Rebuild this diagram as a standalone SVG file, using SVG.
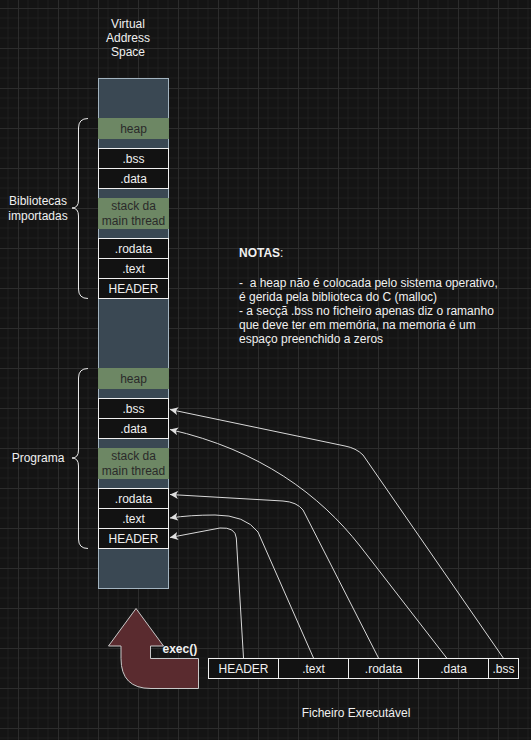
<svg xmlns="http://www.w3.org/2000/svg" width="531" height="740" viewBox="0 0 531 740">
<defs>
<pattern id="grid" patternUnits="userSpaceOnUse" width="40" height="40" x="18" y="8">
<path d="M10,0 V40 M20,0 V40 M30,0 V40 M0,10 H40 M0,20 H40 M0,30 H40" stroke="#1e1e1e" stroke-width="1" fill="none"/>
<path d="M0.5,0 V40 M0,0.5 H40" stroke="#2c2c2c" stroke-width="1" fill="none"/>
</pattern>
<marker id="arr" markerUnits="userSpaceOnUse" markerWidth="10" markerHeight="10" refX="8" refY="4" orient="auto">
<path d="M8,4 L0,0 L2,4 L0,8 Z" fill="#e0e0e0"/>
</marker>
</defs>
<style>
text{font-family:"Liberation Sans",Arial,sans-serif;font-size:12px;fill:#f0f0f0}
.c{text-anchor:middle}
.dk{fill:#2a2a2a}
.blk{fill:#121212;stroke:#f0f0f0;stroke-width:1}
.grn{fill:#6d8764;stroke:#6d8764;stroke-width:1}
.br{fill:none;stroke:#e8e8e8;stroke-width:1}
.ln{fill:none;stroke:#d8d8d8;stroke-width:1;marker-end:url(#arr)}
</style>
<rect width="531" height="740" fill="#141414"/>
<rect width="531" height="740" fill="url(#grid)"/>

<g id="title">
<text class="c" x="128" y="28">Virtual</text>
<text class="c" x="128" y="42">Address</text>
<text class="c" x="128" y="56">Space</text>
</g>

<g id="column">
<rect x="98.5" y="78.5" width="70" height="510" fill="#3a4853" stroke="#a3b4c0"/>
</g>

<g id="lib-heap"><rect class="grn" x="98.5" y="118.5" width="70" height="20"/><text class="c dk" x="133.5" y="132.5">heap</text></g>
<g id="lib-bss"><rect class="blk" x="98.5" y="148.5" width="70" height="20"/><text class="c" x="133.5" y="162.5">.bss</text></g>
<g id="lib-data"><rect class="blk" x="98.5" y="168.5" width="70" height="20"/><text class="c" x="133.5" y="182.5">.data</text></g>
<g id="lib-stack"><rect class="grn" x="98.5" y="198.5" width="70" height="30"/><text class="c dk" x="133.5" y="210">stack da</text><text class="c dk" x="133.5" y="224.5">main thread</text></g>
<g id="lib-rodata"><rect class="blk" x="98.5" y="238.5" width="70" height="20"/><text class="c" x="133.5" y="252.5">.rodata</text></g>
<g id="lib-text"><rect class="blk" x="98.5" y="258.5" width="70" height="20"/><text class="c" x="133.5" y="272.5">.text</text></g>
<g id="lib-header"><rect class="blk" x="98.5" y="278.5" width="70" height="20"/><text class="c" x="133.5" y="292.5">HEADER</text></g>

<g id="prog-heap"><rect class="grn" x="98.5" y="368.5" width="70" height="20"/><text class="c dk" x="133.5" y="382.5">heap</text></g>
<g id="prog-bss"><rect class="blk" x="98.5" y="398.5" width="70" height="20"/><text class="c" x="133.5" y="412.5">.bss</text></g>
<g id="prog-data"><rect class="blk" x="98.5" y="418.5" width="70" height="20"/><text class="c" x="133.5" y="432.5">.data</text></g>
<g id="prog-stack"><rect class="grn" x="98.5" y="448.5" width="70" height="30"/><text class="c dk" x="133.5" y="460">stack da</text><text class="c dk" x="133.5" y="474.5">main thread</text></g>
<g id="prog-rodata"><rect class="blk" x="98.5" y="488.5" width="70" height="20"/><text class="c" x="133.5" y="502.5">.rodata</text></g>
<g id="prog-text"><rect class="blk" x="98.5" y="508.5" width="70" height="20"/><text class="c" x="133.5" y="522.5">.text</text></g>
<g id="prog-header"><rect class="blk" x="98.5" y="528.5" width="70" height="20"/><text class="c" x="133.5" y="542.5">HEADER</text></g>

<g id="brace-lib">
<path class="br" d="M88,118.5 Q78.5,118.5 78.5,128 L78.5,200 Q78.5,208 72,208 Q78.5,208 78.5,216 L78.5,289 Q78.5,298.5 88,298.5"/>
<text class="c" x="38" y="205">Bibliotecas</text>
<text class="c" x="38" y="220">importadas</text>
</g>
<g id="brace-prog">
<path class="br" d="M88,368.5 Q78.5,368.5 78.5,378 L78.5,450 Q78.5,458 72,458 Q78.5,458 78.5,466 L78.5,539 Q78.5,548.5 88,548.5"/>
<text class="c" x="38" y="462">Programa</text>
</g>

<g id="notes">
<text x="239" y="257"><tspan font-weight="bold">NOTAS</tspan>:</text>
<text x="239" y="287">-&#160; a heap não é colocada pelo sistema operativo,</text>
<text x="239" y="301">é gerida pela biblioteca do C (malloc)</text>
<text x="239" y="315">- a secçã .bss no ficheiro apenas diz o ramanho</text>
<text x="239" y="329">que deve ter em memória, na memoria é um</text>
<text x="239" y="343">espaço preenchido a zeros</text>
</g>

<g id="exec-arrow">
<path d="M136,608.5 L163.5,646 L150.5,646 L150.5,658.5 L198.5,658.5 L198.5,688.5 L151,688.5 Q121,688.5 121,658.5 L121,646 L108.5,646 Z" fill="#5a2b2f" stroke="#c8c8c8" stroke-width="1"/>
<text x="162.5" y="652.5" font-weight="bold">exec()</text>
</g>

<g id="file">
<rect class="blk" x="208.5" y="658.5" width="70" height="20"/><text class="c" x="243.5" y="672.5">HEADER</text>
<rect class="blk" x="278.5" y="658.5" width="70" height="20"/><text class="c" x="313.5" y="672.5">.text</text>
<rect class="blk" x="348.5" y="658.5" width="70" height="20"/><text class="c" x="383.5" y="672.5">.rodata</text>
<rect class="blk" x="418.5" y="658.5" width="70" height="20"/><text class="c" x="453.5" y="672.5">.data</text>
<rect class="blk" x="488.5" y="658.5" width="30" height="20"/><text class="c" x="503.5" y="672.5">.bss</text>
<text class="c" x="356" y="716.5">Ficheiro Exrecutável</text>
</g>

<g id="connectors">
<path class="ln" d="M243.5,658 L236.3,538 Q235.5,527 220,528 L170,537.5"/>
<path class="ln" d="M313.5,658 L258,532 Q245,515 215,515 Q190,515 170,518"/>
<path class="ln" d="M378.5,658 L303,510 Q297,502 283,501 L170,494.5"/>
<path class="ln" d="M446.7,658 L360,546 C320,495 260,450 170,429.5"/>
<path class="ln" d="M503.3,658 L363,455 Q356,448 345,446 L170,409.5"/>
</g>
</svg>
